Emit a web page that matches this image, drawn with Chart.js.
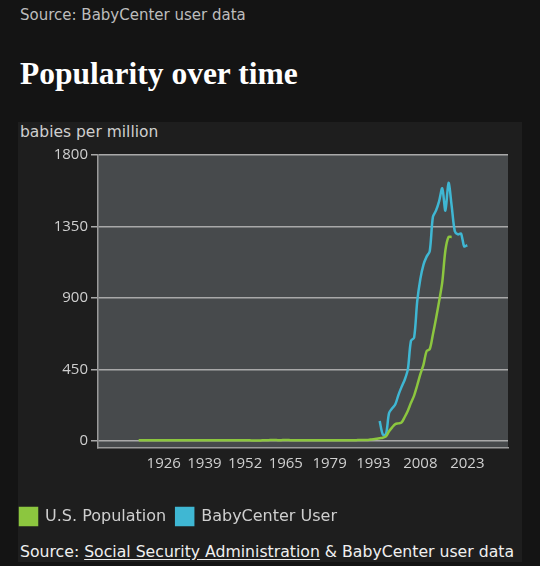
<!DOCTYPE html>
<html>
<head>
<meta charset="utf-8">
<script src="https://cdn.jsdelivr.net/npm/chart.js@4"></script>
<style>
  html, body { margin: 0; padding: 0; background: #141414; }
  body { width: 540px; height: 566px; position: relative; overflow: hidden; font-family: "DejaVu Sans", sans-serif; }
  .src-top { position: absolute; left: 20px; top: 6px; font-size: 15px; color: #bdbdbd; }
  h1 { position: absolute; left: 20px; top: 56px; margin: 0; font: bold 31.5px "Liberation Serif", serif; color: #fff; }
  .card { position: absolute; left: 18px; top: 122px; width: 504px; height: 440px; background: #1e1e1e; }
  .ylab { position: absolute; left: 20px; top: 123px; font-size: 15.5px; color: #cfcfcf; }
  #wrap { position: absolute; left: 10px; top: 122px; width: 512px; height: 413px; }
  .src-bot { position: absolute; left: 20px; top: 542px; font-size: 15.7px; color: #f0f0f0; white-space: nowrap; }
  .src-bot u { text-underline-offset: 2px; }
</style>
</head>
<body>
<div class="src-top">Source: BabyCenter user data</div>
<h1>Popularity over time</h1>
<div class="card"></div>
<div class="ylab">babies per million</div>
<div id="wrap"><canvas id="chart"></canvas></div>
<div class="src-bot">Source: <u>Social Security Administration</u> &amp; BabyCenter user data</div>

<script>
// U.S. Population (SSA), 1918 - 2018
const usStart = 1918
const usValues = [
  4, 4, 4, 4, 4, 4, 4, 4, 4, 4, 4, 4,
  4, 4, 4, 4, 4, 4, 4, 4, 4, 4,
  4, 4, 4, 4, 4, 4, 4, 4, 4, 4,
  4, 4, 4, 4, 3, 3, 3, 3, 4, 4,
  5, 5, 5, 4, 5, 5, 5, 4, 4, 4,
  4, 4, 4, 4, 4, 4, 4, 4, 4, 4,
  4, 4, 4, 4, 4, 4, 4, 4, 5, 5,
  5, 6, 8, 10, 13, 17, 20, 28, 60, 85,
  105, 110, 116, 150, 190, 240, 285, 350, 420, 480,
  565, 578, 670, 770, 880, 1000, 1200, 1284, 1284
]

// BabyCenter users, 1995 - 2023
const bcStart = 1995
const bcValues = [
  125, 40, 40, 175, 205,
  230, 290, 340, 385, 450, 630, 650, 880, 1020, 1110,
  1160, 1195, 1410, 1450, 1510, 1590, 1450, 1625, 1480, 1320,
  1300, 1305, 1225, 1232
]

const xTicks = [1926, 1939, 1952, 1965, 1979, 1993, 2008, 2023]
const yTicks = [0, 450, 900, 1350, 1800]

const toPoints = (start, vals) => vals.map((v, i) => ({ x: start + i, y: v }))

const plotBg = {
  id: 'plotBg',
  beforeDraw (c) {
    const { ctx, chartArea: a } = c
    ctx.save()
    ctx.fillStyle = '#474a4c'
    ctx.fillRect(a.left, a.top, a.right - a.left, a.bottom - a.top)
    ctx.restore()
  }
}

Chart.defaults.font.family = '"Open Sans", sans-serif'
Chart.defaults.font.size = 15
Chart.defaults.color = '#cfcfcf'

new Chart(document.getElementById('chart'), {
  type: 'line',
  data: {
    datasets: [
      {
        label: 'U.S. Population',
        data: toPoints(usStart, usValues),
        borderColor: '#8cc63f',
        backgroundColor: '#8cc63f',
        borderWidth: 2.5,
        pointRadius: 0,
        tension: .3
      },
      {
        label: 'BabyCenter User',
        data: toPoints(bcStart, bcValues),
        borderColor: '#3fb7d3',
        backgroundColor: '#3fb7d3',
        borderWidth: 2.5,
        pointRadius: 0,
        tension: .3
      }
    ]
  },
  options: {
    responsive: true,
    maintainAspectRatio: false,
    animation: false,
    layout: { padding: { top: 33, right: 14, left: 0, bottom: 0 } },
    plugins: {
      tooltip: { enabled: false },
      legend: {
        position: 'bottom',
        align: 'start',
        labels: {
          boxWidth: 17, boxHeight: 17, padding: 10, color: '#cfcfcf',
          font: { size: 16, family: '"DejaVu Sans", sans-serif' }
        }
      }
    },
    scales: {
      x: {
        type: 'linear',
        min: 1905,
        max: 2036,
        afterBuildTicks: s => { s.ticks = xTicks.map(v => ({ value: v })) },
        afterFit: s => { s.height = 50 },
        ticks: { color: '#cfcfcf', padding: 7, callback: v => String(v), maxRotation: 0, autoSkip: false },
        grid: { drawOnChartArea: false, drawTicks: false },
        border: { display: true, color: '#9a9a9a', width: 1.5 }
      },
      y: {
        min: -45,
        max: 1800,
        afterBuildTicks: s => { s.ticks = yTicks.map(v => ({ value: v })) },
        afterFit: s => { s.width = 88 },
        ticks: { color: '#cfcfcf', padding: 3, callback: v => String(v) },
        grid: { color: '#a9a9a9', lineWidth: 1.5, tickLength: 7 },
        border: { display: true, color: '#9a9a9a', width: 1.5 }
      }
    }
  },
  plugins: [plotBg]
})
</script>
</body>
</html>
